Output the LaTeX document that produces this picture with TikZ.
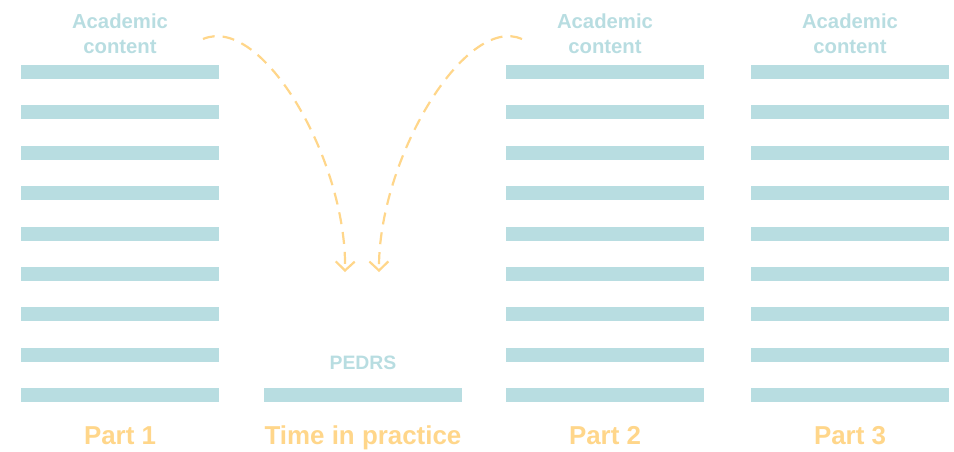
\documentclass[tikz,border=0pt]{standalone}
\usepackage{fontspec}
\setmainfont{Liberation Sans}
\usepackage{tikz}
\usetikzlibrary{positioning,arrows.meta}
\definecolor{barteal}{RGB}{184,221,225}
\definecolor{partorange}{RGB}{255,214,138}
\tikzset{
 bar/.style
  = {rectangle, fill=barteal, inner sep=0pt, minimum width=198pt, minimum height=14pt},
 head/.style
  = {text=barteal, font=\bfseries\fontsize{20.3}{24.5}\selectfont, align=center, inner sep=0pt},
 part/.style
  = {text=partorange, font=\bfseries\fontsize{25.9}{30}\selectfont, inner sep=0pt, anchor=base},
 hop/.style
  = {draw=partorange, line width=2.2pt, dash pattern=on 12pt off 8pt,
     -{Straight Barb[length=9pt,width=19pt,line width=2.2pt]}},
}

\begin{document}
\begin{tikzpicture}[x=1pt,y=-1pt]
\useasboundingbox (0,0) rectangle (954,451);

% Bars of the three parts
\foreach \col/\x in {1/120,2/605,3/850}
  \foreach \i in {1,...,9}
    \node[bar] (p\col-\i) at (\x,{72+40.375*(\i-1)}) {};

% Bar of the practice time
\node[bar] (pedrs) at (363,395) {};

% Labels above
\node[head] (ac1) at (120,33.5) {Academic\\content};
\node[head] (ac2) at (605,33.5) {Academic\\content};
\node[head] (ac3) at (850,33.5) {Academic\\content};
\node[head,font=\bfseries\fontsize{19.4}{22}\selectfont,anchor=base] (lp) at (363,369) {PEDRS};

% Labels below
\node[part] (l1) at (120,444) {Part 1};
\node[part] (lt) at (363,444) {Time in practice};
\node[part] (l2) at (605,444) {Part 2};
\node[part] (l3) at (850,444) {Part 3};

% Hops into practice
\coordinate (s1) at (203,39);
\coordinate (t1) at (345,272);
\coordinate (s2) at (522,39);
\coordinate (t2) at (379,272);
\draw[hop] (s1) .. controls (262,14) and (347,160) .. (t1);
\draw[hop] (s2) .. controls (465,14) and (378,160) .. (t2);

\end{tikzpicture}
\end{document}
